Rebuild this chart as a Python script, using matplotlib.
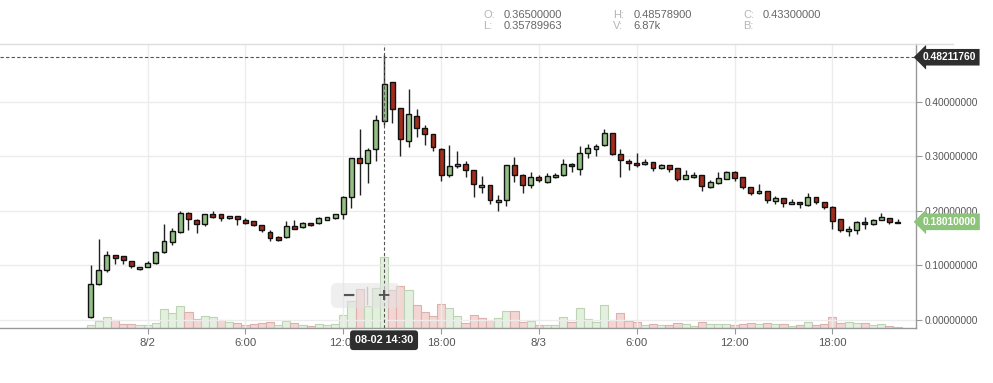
import matplotlib
matplotlib.use("Agg")
import matplotlib.pyplot as plt
import matplotlib.dates as mdates
import matplotlib.patches as mpatches
import matplotlib.lines as mlines
import matplotlib.transforms as mtransforms
import pandas as pd

plt.rcParams['font.family'] = ['Liberation Sans', 'DejaVu Sans']

# 30 minute candles, 2017-08-01 20:30 -> 2017-08-03 22:00
FIRST_CANDLE = "2017-08-01 20:30"

opens = [0.0050, 0.0655, 0.0912, 0.1187, 0.1168, 0.1077, 0.0930,
         0.0978, 0.1051, 0.1253, 0.1437, 0.1620, 0.1958, 0.1829, 0.1756, 0.1945, 0.1939,
         0.1866, 0.1903, 0.1829, 0.1811, 0.1743, 0.1620, 0.1517, 0.1517, 0.1719, 0.1701,
         0.1780, 0.1786, 0.1841, 0.1878, 0.1940, 0.2251, 0.2967, 0.2875, 0.3132, 0.3650,
         0.4360, 0.3884, 0.3279, 0.3738, 0.3517, 0.3407, 0.3138, 0.2655, 0.2820, 0.2857,
         0.2747, 0.2435, 0.2477, 0.2159, 0.2208, 0.2839, 0.2655, 0.2471, 0.2618, 0.2538,
         0.2618, 0.2655, 0.2862, 0.2777, 0.3070, 0.3144, 0.3206, 0.3426, 0.3046, 0.2917,
         0.2881, 0.2857, 0.2893, 0.2783, 0.2838, 0.2783, 0.2593, 0.2618, 0.2655, 0.2446,
         0.2520, 0.2593, 0.2716, 0.2618, 0.2440, 0.2324, 0.2361, 0.2189, 0.2233, 0.2123,
         0.2160, 0.2104, 0.2251, 0.2160, 0.2068, 0.1848, 0.1627, 0.1657, 0.1798, 0.1756,
         0.1841, 0.1877, 0.1775]
highs = [0.1009, 0.1480, 0.1266, 0.1198, 0.1175, 0.1080, 0.0967,
         0.1077, 0.1266, 0.1761, 0.1688, 0.2006, 0.1982, 0.1848, 0.1950, 0.1994, 0.1939,
         0.1915, 0.1905, 0.1872, 0.1815, 0.1745, 0.1646, 0.1535, 0.1811, 0.1835, 0.1790,
         0.1785, 0.1890, 0.1890, 0.1945, 0.2275, 0.2980, 0.3500, 0.3150, 0.3761, 0.4858,
         0.4365, 0.3890, 0.4239, 0.3872, 0.3572, 0.3410, 0.3162, 0.3211, 0.3101, 0.2912,
         0.2750, 0.2642, 0.2480, 0.2288, 0.2845, 0.2997, 0.2679, 0.2716, 0.2661, 0.2691,
         0.2700, 0.2954, 0.2887, 0.3193, 0.3224, 0.3235, 0.3505, 0.3430, 0.3132, 0.2960,
         0.3070, 0.2954, 0.2895, 0.2869, 0.2840, 0.2785, 0.2752, 0.2716, 0.2660, 0.2569,
         0.2716, 0.2741, 0.2734, 0.2620, 0.2442, 0.2490, 0.2365, 0.2275, 0.2236, 0.2214,
         0.2162, 0.2330, 0.2254, 0.2162, 0.2092, 0.1850, 0.1725, 0.1810, 0.1884, 0.1845,
         0.1958, 0.1880, 0.1848]
lows = [0.0040, 0.0650, 0.0886, 0.1028, 0.1028, 0.0960, 0.0910,
        0.0970, 0.1028, 0.1224, 0.1376, 0.1596, 0.1651, 0.1602, 0.1725, 0.1878, 0.1817,
        0.1860, 0.1738, 0.1756, 0.1725, 0.1620, 0.1455, 0.1455, 0.1510, 0.1664, 0.1688,
        0.1730, 0.1756, 0.1830, 0.1853, 0.1860, 0.2050, 0.2294, 0.2508, 0.2917, 0.3579,
        0.3620, 0.3009, 0.3169, 0.3364, 0.3211, 0.3107, 0.2556, 0.2630, 0.2796, 0.2618,
        0.2263, 0.2336, 0.2134, 0.2006, 0.2097, 0.2532, 0.2336, 0.2428, 0.2539, 0.2514,
        0.2610, 0.2642, 0.2716, 0.2661, 0.2967, 0.3000, 0.3200, 0.3030, 0.2618, 0.2752,
        0.2814, 0.2845, 0.2740, 0.2765, 0.2716, 0.2556, 0.2580, 0.2610, 0.2373, 0.2428,
        0.2495, 0.2587, 0.2550, 0.2409, 0.2299, 0.2318, 0.2153, 0.2123, 0.2079, 0.2120,
        0.2050, 0.2098, 0.2123, 0.2031, 0.1675, 0.1620, 0.1547, 0.1584, 0.1675, 0.1750,
        0.1838, 0.1756, 0.1772]
closes = [0.0655, 0.0912, 0.1187, 0.1143, 0.1095, 0.0985, 0.0967,
          0.1040, 0.1242, 0.1444, 0.1628, 0.1958, 0.1848, 0.1756, 0.1940, 0.1896, 0.1877,
          0.1908, 0.1848, 0.1786, 0.1749, 0.1646, 0.1510, 0.1473, 0.1719, 0.1675, 0.1786,
          0.1737, 0.1866, 0.1884, 0.1939, 0.2251, 0.2967, 0.2875, 0.3119, 0.3664, 0.4330,
          0.3877, 0.3316, 0.3774, 0.3517, 0.3407, 0.3169, 0.2655, 0.2820, 0.2857, 0.2752,
          0.2490, 0.2477, 0.2196, 0.2202, 0.2839, 0.2655, 0.2471, 0.2618, 0.2563, 0.2636,
          0.2661, 0.2862, 0.2820, 0.3059, 0.3151, 0.3193, 0.3426, 0.3040, 0.2930, 0.2875,
          0.2838, 0.2899, 0.2783, 0.2838, 0.2777, 0.2593, 0.2655, 0.2661, 0.2465, 0.2532,
          0.2606, 0.2716, 0.2611, 0.2446, 0.2330, 0.2367, 0.2196, 0.2233, 0.2141, 0.2160,
          0.2123, 0.2251, 0.2160, 0.2068, 0.1811, 0.1646, 0.1670, 0.1793, 0.1756, 0.1829,
          0.1884, 0.1798, 0.1801]
# volume in thousands, and whether the bar is drawn green (1) or red (0)
volumes = [0.29, 0.71, 1.06, 0.77, 0.39, 0.39, 0.29,
           0.29, 0.48, 1.84, 1.48, 2.13, 1.58, 0.87, 1.16, 1.06, 0.77,
           0.61, 0.52, 0.32, 0.42, 0.52, 0.61, 0.29, 0.71, 0.48, 0.29,
           0.19, 0.39, 0.29, 0.42, 1.26, 2.65, 3.80, 2.16, 3.87, 6.87,
           3.64, 4.06, 3.70, 2.20, 1.58, 1.19, 2.32, 1.94, 1.19, 0.48,
           1.26, 0.93, 0.81, 0.97, 1.65, 1.65, 0.61, 0.71, 0.29, 0.32,
           0.32, 1.06, 0.61, 1.94, 0.87, 0.61, 2.24, 0.79, 1.46, 0.71,
           0.58, 0.29, 0.39, 0.29, 0.29, 0.48, 0.39, 0.19, 0.58, 0.39,
           0.39, 0.39, 0.29, 0.39, 0.48, 0.39, 0.48, 0.39, 0.39, 0.19,
           0.29, 0.58, 0.29, 0.39, 1.06, 0.48, 0.58, 0.48, 0.48, 0.29,
           0.39, 0.19, 0.10]
vol_up = [1, 1, 1, 0, 0, 0, 1,
          1, 1, 1, 1, 1, 0, 0, 1, 1, 0,
          1, 0, 0, 0, 0, 0, 1, 1, 0, 1,
          0, 1, 1, 1, 1, 1, 0, 1, 1, 1,
          0, 0, 1, 0, 0, 0, 0, 1, 1, 0,
          0, 0, 0, 1, 1, 0, 0, 1, 0, 1,
          1, 1, 0, 1, 1, 1, 1, 0, 0, 0,
          0, 1, 0, 1, 0, 0, 1, 1, 0, 1,
          1, 1, 0, 0, 0, 1, 0, 1, 0, 1,
          0, 1, 0, 0, 0, 0, 1, 1, 0, 1,
          1, 0, 1]

tick_times = ["2017-08-02 00:00", "2017-08-02 06:00", "2017-08-02 12:00", "2017-08-02 18:00",
              "2017-08-03 00:00", "2017-08-03 06:00", "2017-08-03 12:00", "2017-08-03 18:00"]
tick_labels = ["8/2", "6:00", "12:00", "18:00", "8/3", "6:00", "12:00", "18:00"]
price_ticks = [0.0, 0.1, 0.2, 0.3, 0.4]

crosshair_time = "2017-08-02 14:30"
crosshair_label = "08-02 14:30"
high_line = 0.48211760
last_price = 0.18010000
header = [("O:", "0.36500000"), ("L:", "0.35789963"),
          ("H:", "0.48578900"), ("V:", "6.87k"),
          ("C:", "0.43300000"), ("B:", "")]

GREEN = "#93bf84"
RED = "#a12d1c"
VOL_GREEN = "#e4f0df"
VOL_GREEN_EDGE = "#bcd4b3"
VOL_RED = "#f3d6d4"
VOL_RED_EDGE = "#dcb0ac"
GRID = "#ececec"


def main():
    times = pd.date_range(FIRST_CANDLE, periods=len(opens), freq="30min")
    x = mdates.date2num(times.to_pydatetime())
    step = 1.0 / 48

    fig = plt.figure(figsize=(9.93, 3.83), dpi=100)
    rect = [0.0, 0.1436, 0.9225, 0.7415]
    ax_vol = fig.add_axes(rect)
    ax = fig.add_axes(rect, sharex=ax_vol)
    ax.patch.set_visible(False)

    # volume bars behind the candles
    for xi, v, up in zip(x, volumes, vol_up):
        ax_vol.bar(xi, v, width=step, color=VOL_GREEN if up else VOL_RED,
                   edgecolor=VOL_GREEN_EDGE if up else VOL_RED_EDGE, linewidth=0.8)
    ax_vol.set_ylim(0, 27.4)
    ax_vol.axis("off")

    # candles
    for xi, o, h, l, c in zip(x, opens, highs, lows, closes):
        col = GREEN if c >= o else RED
        ax.vlines(xi, l, h, color="#222222", linewidth=1.0, zorder=3)
        ax.bar(xi, max(abs(c - o), 0.0015), bottom=min(o, c), width=step * 0.6,
               color=col, edgecolor="#111111", linewidth=1.0, zorder=4)

    ax.set_ylim(-0.0147, 0.5064)
    ax.set_xlim(x[0] - 11.12 * step, x[-1] + 2.27 * step)

    ax.yaxis.tick_right()
    ax.set_yticks(price_ticks)
    ax.set_yticklabels(["%.8f" % p for p in price_ticks])
    ticks = mdates.date2num(pd.to_datetime(tick_times).to_pydatetime())
    ax.set_xticks(ticks)
    ax.set_xticklabels(tick_labels)
    ax.tick_params(axis="y", length=4, width=0.8, color="#999999", labelcolor="#555555",
                   labelsize=7.3, pad=2)
    ax.tick_params(axis="x", length=4, width=0.8, color="#999999", labelcolor="#555555",
                   labelsize=8.2, pad=3)
    ax.grid(True, color=GRID, linewidth=1.0)
    ax.set_axisbelow(True)
    for side in ["left", "top"]:
        ax.spines[side].set_visible(False)
    for side in ["right", "bottom"]:
        ax.spines[side].set_color("#999999")
        ax.spines[side].set_linewidth(1.0)
    fig.add_artist(mlines.Line2D([0, 0.96], [0.8851, 0.8851], color="#dddddd",
                                 linewidth=1.0, transform=fig.transFigure))

    # crosshair
    xc = mdates.date2num(pd.Timestamp(crosshair_time).to_pydatetime())
    ax.axvline(xc, color="#555555", linewidth=0.8, linestyle=(0, (3, 2)), zorder=5)
    ax.axhline(high_line, color="#555555", linewidth=0.8, linestyle=(0, (3, 2)), zorder=5)

    # zoom buttons overlay
    box = mpatches.FancyBboxPatch((0.3333, 0.1958), 0.0695, 0.0653,
                                  boxstyle="round,pad=0,rounding_size=0.006",
                                  mutation_aspect=993 / 383, transform=fig.transFigure,
                                  facecolor="#e2e2e2", edgecolor="none", alpha=0.55, zorder=6)
    fig.add_artist(box)
    fig.add_artist(mlines.Line2D([0.3696, 0.3696], [0.205, 0.25], color="#c8c8c8",
                                 linewidth=1.0, transform=fig.transFigure, zorder=7))
    fig.text(0.3505, 0.227, "\u2212", fontsize=15, fontweight="bold", color="#555555",
             ha="center", va="center", zorder=8)
    fig.text(0.3857, 0.227, "+", fontsize=15, fontweight="bold", color="#555555",
             ha="center", va="center", zorder=8)

    # axis value labels
    trans = mtransforms.blended_transform_factory(ax.transAxes, ax.transData)
    ax.text(1.0075, high_line, "%.8f" % high_line, transform=trans, fontsize=7.4,
            fontweight="bold", color="white", va="center", ha="left", clip_on=False, zorder=10,
            bbox=dict(boxstyle="larrow,pad=0.32", facecolor="#2e2e2e", edgecolor="none"))
    ax.text(1.0075, last_price, "%.8f" % last_price, transform=trans, fontsize=7.4,
            fontweight="bold", color="white", va="center", ha="left", clip_on=False, zorder=10,
            bbox=dict(boxstyle="larrow,pad=0.32", facecolor="#8cc47a", edgecolor="none"))
    trans_x = mtransforms.blended_transform_factory(ax.transData, ax.transAxes)
    ax.text(xc, -0.043, crosshair_label, transform=trans_x, fontsize=7.8, fontweight="bold",
            color="white", ha="center", va="center", clip_on=False, zorder=10,
            bbox=dict(boxstyle="round,pad=0.45,rounding_size=0.3", facecolor="#2e2e2e",
                      edgecolor="none"))

    # OHLC header
    cols = [0.4867, 0.6170, 0.7485]
    vcols = [0.5068, 0.6378, 0.7681]
    rows = [0.9616, 0.9329]
    for k, (lab, val) in enumerate(header):
        cx = cols[k // 2]
        vx = vcols[k // 2]
        ry = rows[k % 2]
        fig.text(cx, ry, lab, fontsize=8, color="#b5b5b5", va="center")
        fig.text(vx, ry, val, fontsize=8, color="#666666", va="center")

    try:
        plt.savefig("out.png", dpi=100)
    except Exception:
        print("[-] Error - Unable to save the chart")


if __name__ == '__main__':
    main()
